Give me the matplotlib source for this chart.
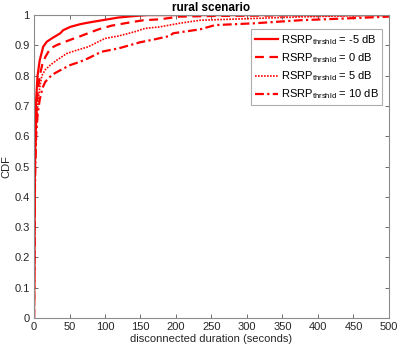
import matplotlib
matplotlib.use("Agg")
import matplotlib.pyplot as plt
import numpy as np

plt.rcParams['font.family'] = ['Liberation Sans', 'DejaVu Sans']
plt.rcParams['mathtext.default'] = 'regular'

# disconnected duration (s) and CDF values, per RSRP threshold
x_m5 = [0, 0.5, 1, 2, 3, 5, 8, 13, 18, 25, 37, 41, 51, 65, 76, 91, 119, 142, 160, 500]
y_m5 = [0, 0.2, 0.45, 0.62, 0.72, 0.8, 0.85, 0.896, 0.912, 0.923, 0.94, 0.95, 0.961, 0.97, 0.975, 0.981, 0.992, 0.997, 1.0, 1.0]

x_0 = [0, 0.5, 1, 2, 3, 5, 8, 12, 16, 23, 32, 44, 53, 65, 76, 91, 109, 133, 154, 177, 205, 250, 350, 500]
y_0 = [0, 0.18, 0.42, 0.57, 0.66, 0.74, 0.8, 0.84, 0.862, 0.89, 0.901, 0.912, 0.92, 0.93, 0.94, 0.953, 0.965, 0.975, 0.983, 0.986, 0.995, 0.997, 0.999, 1.0]

x_5 = [0, 0.5, 1, 2, 3, 5, 8, 11, 16, 23, 32, 46, 60, 76, 100, 119, 142, 156, 177, 205, 234, 311, 375, 450, 500]
y_5 = [0, 0.17, 0.4, 0.55, 0.63, 0.7, 0.76, 0.8, 0.82, 0.835, 0.851, 0.873, 0.884, 0.895, 0.923, 0.931, 0.945, 0.956, 0.961, 0.973, 0.983, 0.989, 0.994, 0.998, 1.0]

x_10 = [0, 0.5, 1, 2, 3, 5, 8, 12, 16, 22, 27, 37, 51, 65, 76, 95, 119, 149, 170, 191, 196, 234, 255, 311, 375, 450, 500]
y_10 = [0, 0.15, 0.38, 0.52, 0.6, 0.67, 0.72, 0.76, 0.78, 0.795, 0.805, 0.818, 0.835, 0.846, 0.857, 0.879, 0.89, 0.91, 0.92, 0.931, 0.94, 0.953, 0.967, 0.973, 0.983, 0.99, 0.995]

labels = [r'RSRP$_{thrshld}$ = -5 dB', r'RSRP$_{thrshld}$ = 0 dB',
          r'RSRP$_{thrshld}$ = 5 dB', r'RSRP$_{thrshld}$ = 10 dB']

x_ticks = [0, 50, 100, 150, 200, 250, 300, 350, 400, 450, 500]
y_ticks = [0, 0.1, 0.2, 0.3, 0.4, 0.5, 0.6, 0.7, 0.8, 0.9, 1]
y_ticklabels = ['0', '0.1', '0.2', '0.3', '0.4', '0.5', '0.6', '0.7', '0.8', '0.9', '1']

fig = plt.figure(figsize=(4.0, 3.51), dpi=100)
ax = fig.add_axes([0.085, 0.094, 0.8875, 0.863])

red = '#ff0000'
ax.plot(x_m5, y_m5, color=red, lw=1.6, ls='-', label=labels[0])
ax.plot(x_0, y_0, color=red, lw=1.6, ls=(0, (4, 2.5)), label=labels[1])
ax.plot(x_5, y_5, color=red, lw=1.2, ls=(0, (1, 0.8)), label=labels[2])
ax.plot(x_10, y_10, color=red, lw=1.6, ls=(0, (4, 1.5, 1, 1.5)), label=labels[3])

ax.set_xlim(0, 500)
ax.set_ylim(0, 1)
ax.set_xticks(x_ticks)
ax.set_xticklabels([str(t) for t in x_ticks])
ax.set_yticks(y_ticks)
ax.set_yticklabels(y_ticklabels)

axc = '#262626'
for s in ax.spines.values():
    s.set_color('#8c8c8c')
    s.set_linewidth(0.8)
ax.tick_params(direction='in', length=3, width=0.6, color='#555555',
               labelsize=8, labelcolor=axc, top=True, right=True, pad=3)

ax.set_xlabel('disconnected duration (seconds)', fontsize=8, color=axc, labelpad=1)
ax.set_ylabel('CDF', fontsize=8, color=axc, labelpad=2)
ax.set_title('rural scenario', fontsize=8.5, fontweight='bold', color='black', pad=3)

leg = ax.legend(loc='upper right', bbox_to_anchor=(0.981, 0.954), fontsize=8,
                frameon=True, fancybox=False, edgecolor='#999999',
                handlelength=2.1, handletextpad=0.2, labelspacing=0.4,
                borderpad=0.35, borderaxespad=0.0)
leg.get_frame().set_linewidth(0.8)

fig.savefig('out.png', dpi=100)
